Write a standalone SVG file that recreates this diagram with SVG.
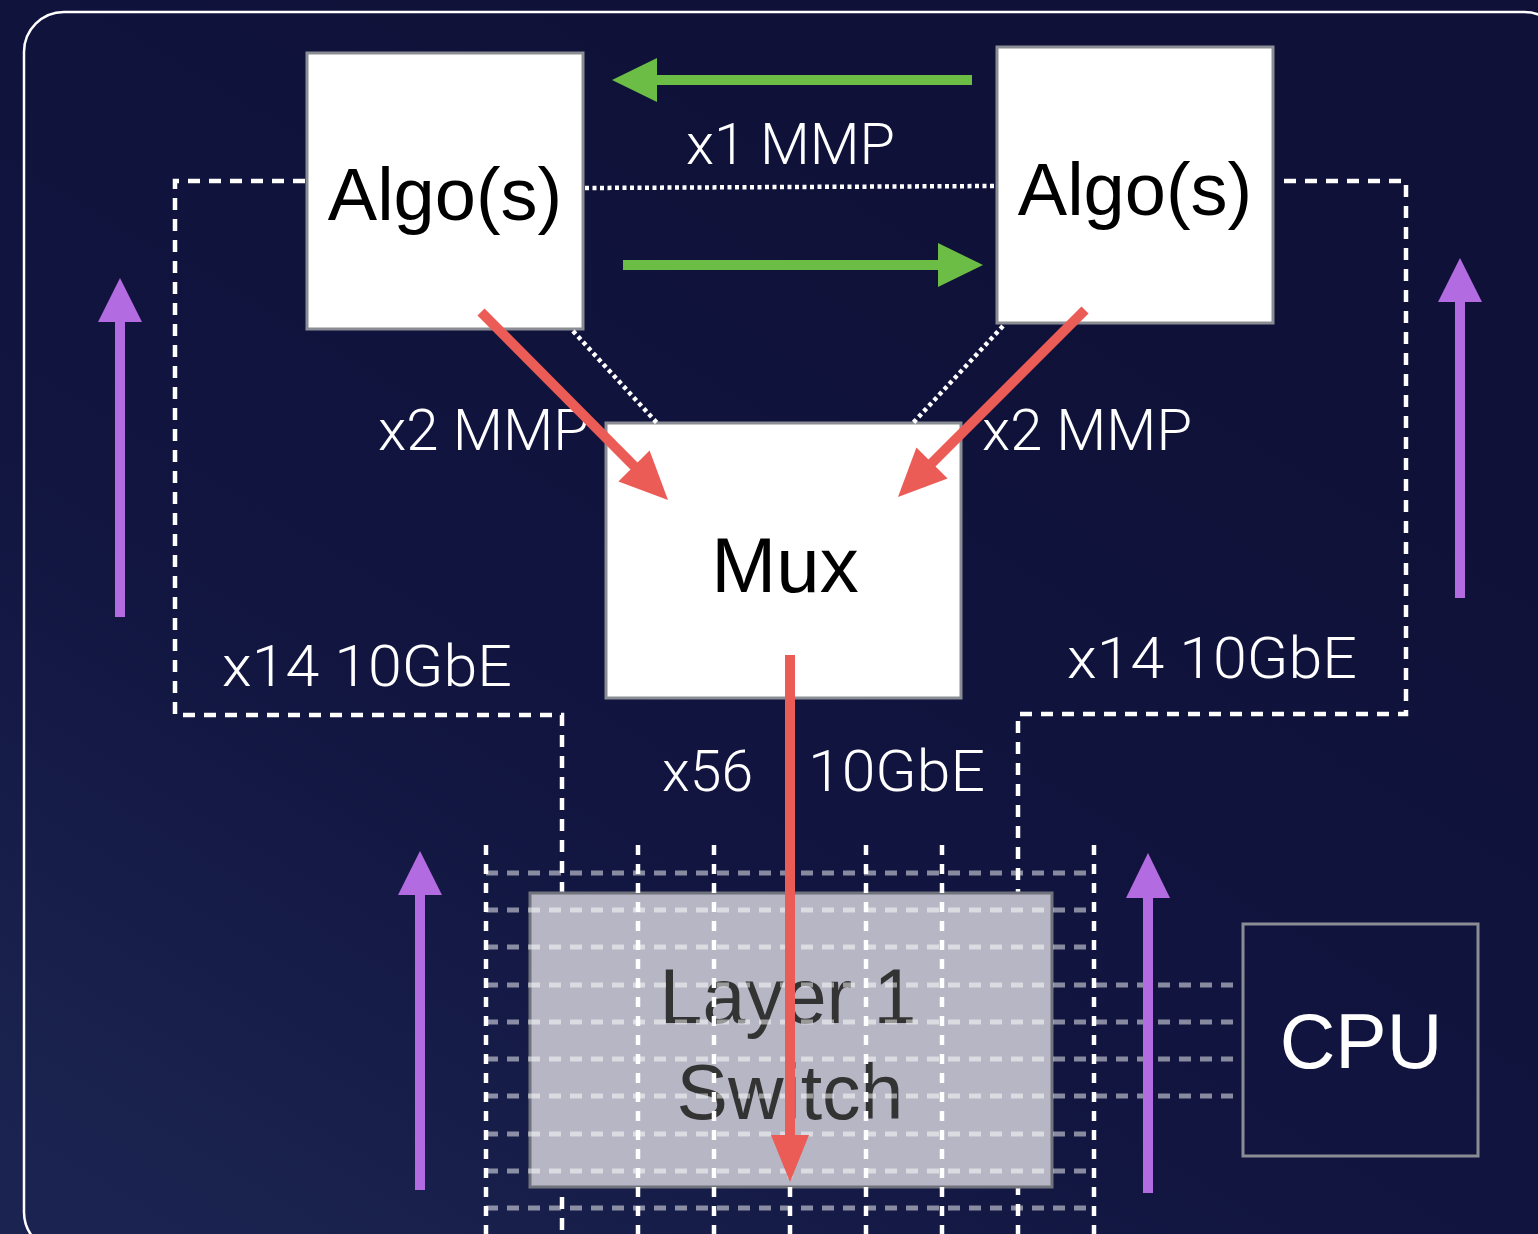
<svg xmlns="http://www.w3.org/2000/svg" width="1538" height="1234" viewBox="0 0 1538 1234">
  <defs>
    <linearGradient id="bg" x1="0.7" y1="0.2" x2="0.1" y2="1">
      <stop offset="0" stop-color="#0f1138"/>
      <stop offset="0.55" stop-color="#111540"/>
      <stop offset="1" stop-color="#1b2450"/>
    </linearGradient>
    <style>
      .node { fill: #ffffff; stroke: #8a8d94; stroke-width: 3; }
      .ntext { font-family: "Liberation Sans", Arial, sans-serif; fill: #000; text-anchor: middle; }
      .lbl { font-family: Roboto, "Liberation Sans", Arial, sans-serif; font-weight: 300; fill: #ffffff; font-size: 57px; }
      .frame { fill: none; stroke: #ffffff; stroke-width: 4.5; stroke-dasharray: 12 9; }
      .vgrid { fill: none; stroke: #ffffff; stroke-width: 4.5; stroke-dasharray: 10 9; }
      .hgrid { fill: none; stroke: #ffffff; stroke-opacity: 0.5; stroke-width: 5; stroke-dasharray: 12 9; }
      .dots { fill: none; stroke: #ffffff; stroke-width: 4.5; stroke-dasharray: 4 3.5; }
      .green { stroke: #6cbd45; stroke-width: 10; fill: none; }
      .greenh { fill: #6cbd45; }
      .red { stroke: #eb5c56; stroke-width: 10; fill: none; }
      .redh { fill: #eb5c56; }
      .purple { stroke: #b26be0; stroke-width: 10; fill: none; }
      .purpleh { fill: #b26be0; }
    </style>
  </defs>

  <rect x="0" y="0" width="1538" height="1234" fill="url(#bg)"/>
  <rect x="24" y="12" width="1540" height="1240" rx="40" ry="40" fill="none" stroke="#ffffff" stroke-width="2.5"/>

  <!-- frames and grid behind nodes -->
  <g id="frames">
    <path class="frame" d="M305,181 H175 V715 H562 V1234"/>
    <path class="frame" d="M1284,181 H1406 V714 H1018 V1234"/>
  </g>

  <g id="switch">
    <rect x="530" y="893" width="522" height="294" fill="#b6b6c4" stroke="#70737c" stroke-width="3"/>
    <text class="ntext" x="788" y="1023" font-size="77" style="fill:#333333">Layer 1</text>
    <text class="ntext" x="790" y="1119" font-size="77" style="fill:#333333">Switch</text>
  </g>

  <g id="grid">
    <path class="vgrid" d="M486,845 V1234 M638,845 V1234 M714,845 V1234 M790,845 V1234 M866,845 V1234 M942,845 V1234 M1094,845 V1234"/>
    <path class="hgrid" d="M486,873 H1094 M486,910 H1094 M486,947 H1094 M486,985 H1243 M486,1022 H1243 M486,1059 H1243 M486,1096 H1243 M486,1134 H1094 M486,1171 H1094 M486,1208 H1094"/>
  </g>

  <g id="algo-left">
    <rect class="node" x="307" y="53" width="276" height="276"/>
    <text class="ntext" x="445" y="220" font-size="74">Algo(s)</text>
  </g>
  <g id="algo-right">
    <rect class="node" x="997" y="47" width="276" height="276"/>
    <text class="ntext" x="1135" y="215" font-size="74">Algo(s)</text>
  </g>
  <g id="mux">
    <rect class="node" x="606" y="423" width="355" height="275"/>
    <text class="ntext" x="785" y="592" font-size="78">Mux</text>
  </g>
  <g id="cpu">
    <rect x="1243" y="924" width="235" height="232" fill="none" stroke="#8a8d94" stroke-width="3"/>
    <text class="ntext" x="1361" y="1068" font-size="77" style="fill:#ffffff">CPU</text>
  </g>

  <g id="labels">
    <text class="lbl" x="686" y="164" textLength="209" lengthAdjust="spacingAndGlyphs">x1 MMP</text>
    <text class="lbl" x="378" y="450" textLength="211" lengthAdjust="spacingAndGlyphs">x2 MMP</text>
    <text class="lbl" x="982" y="450" textLength="210" lengthAdjust="spacingAndGlyphs">x2 MMP</text>
    <text class="lbl" x="222" y="686" textLength="290" lengthAdjust="spacingAndGlyphs">x14 10GbE</text>
    <text class="lbl" x="1067" y="678" textLength="290" lengthAdjust="spacingAndGlyphs">x14 10GbE</text>
    <text class="lbl" x="662" y="791" textLength="91" lengthAdjust="spacingAndGlyphs">x56</text>
    <text class="lbl" x="808" y="791" textLength="177" lengthAdjust="spacingAndGlyphs">10GbE</text>
  </g>

  <g id="connectors">
    <path class="dots" d="M585,188 L995,186"/>
    <path class="dots" d="M573,331 L657,423"/>
    <path class="dots" d="M1003,326 L913,423"/>

    <path class="green" d="M972,80 H655"/>
    <polygon class="greenh" points="612,80 657,58 657,102"/>
    <path class="green" d="M623,265 H940"/>
    <polygon class="greenh" points="983,265 938,243 938,287"/>

    <path class="purple" d="M120,617 V320"/>
    <polygon class="purpleh" points="120,278 98,322 142,322"/>
    <path class="purple" d="M1460,598 V300"/>
    <polygon class="purpleh" points="1460,258 1438,302 1482,302"/>
    <path class="purple" d="M420,1190 V893"/>
    <polygon class="purpleh" points="420,851 398,895 442,895"/>
    <path class="purple" d="M1148,1193 V896"/>
    <polygon class="purpleh" points="1148,853 1126,898 1170,898"/>

    <path class="red" d="M481,312 L636,468"/>
    <polygon class="redh" points="668,500 618.4,481.6 649.6,450.4"/>
    <path class="red" d="M1085,310 L930,465"/>
    <polygon class="redh" points="898,497 947.6,478.6 916.4,447.4"/>
    <path class="red" d="M790,655 V1138"/>
    <polygon class="redh" points="790,1182 771,1135 809,1135"/>
  </g>
</svg>
